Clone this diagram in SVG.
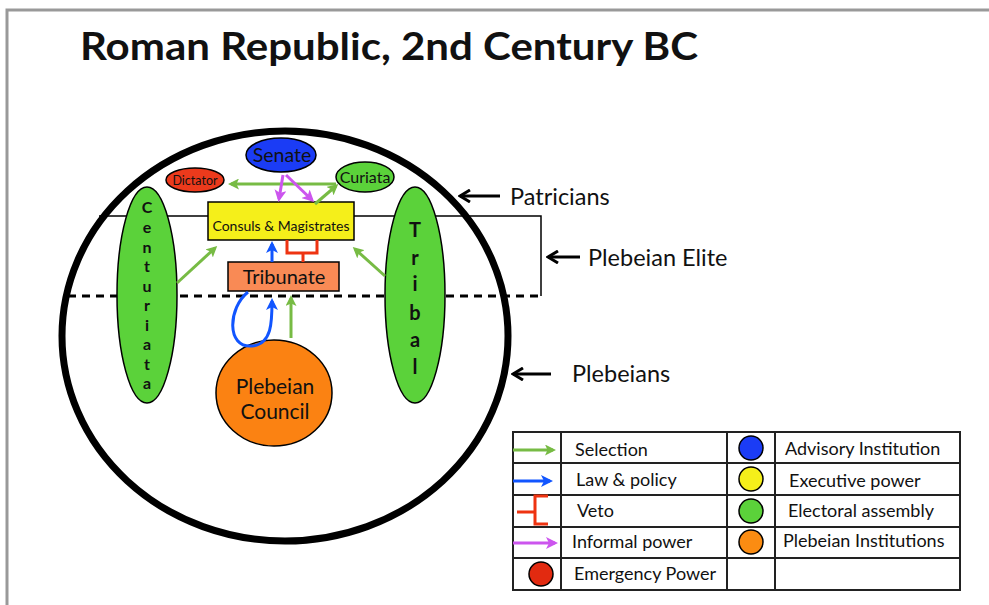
<svg xmlns="http://www.w3.org/2000/svg" width="989" height="605" viewBox="0 0 989 605">
  <style>
    text { font-family: Lato, "Open Sans", "Liberation Sans", sans-serif; fill: #111; }
    .lbl { font-size: 23.5px; }
    .leg { font-size: 18px; }
    .ol { stroke: #000; stroke-width: 1.5; }
    .sel { stroke: #77bb44; stroke-width: 3; fill: none; }
    .law { stroke: #1155ff; stroke-width: 3; fill: none; }
    .veto { stroke: #ee3311; stroke-width: 3; fill: none; }
    .inf { stroke: #cc55ee; stroke-width: 3; fill: none; }
    .grid { stroke: #222; stroke-width: 2; fill: none; }
    .letter { font-family: "Liberation Sans", Arial, sans-serif; font-weight: bold; text-anchor: middle; }
  </style>
  <defs>
    <marker id="ahSel" markerWidth="11" markerHeight="11" refX="8" refY="5.5" orient="auto" markerUnits="userSpaceOnUse" viewBox="0 0 11 11">
      <path d="M0,0 L11,5.5 L0,11 L2.5,5.5 Z" fill="#77bb44"/>
    </marker>
    <marker id="ahLaw" markerWidth="12" markerHeight="12" refX="9" refY="6" orient="auto" markerUnits="userSpaceOnUse" viewBox="0 0 12 12">
      <path d="M0,0 L12,6 L0,12 L3,6 Z" fill="#1155ff"/>
    </marker>
    <marker id="ahInf" markerWidth="12" markerHeight="12" refX="9" refY="6" orient="auto" markerUnits="userSpaceOnUse" viewBox="0 0 12 12">
      <path d="M0,0 L12,6 L0,12 L3,6 Z" fill="#cc55ee"/>
    </marker>
    <marker id="ahBlk" markerWidth="14" markerHeight="14" refX="12" refY="7" orient="auto" markerUnits="userSpaceOnUse" viewBox="0 0 14 14">
      <path d="M2,1 L12,7 L2,13" fill="none" stroke="#000" stroke-width="3"/>
    </marker>
  </defs>

  <!-- page frame -->
  <rect x="0" y="0" width="989" height="605" fill="#fff"/>
  <path d="M7,605 V10 H989" fill="none" stroke="#999" stroke-width="3"/>

  <text x="80" y="60" font-size="38" font-weight="bold" textLength="618" lengthAdjust="spacingAndGlyphs">Roman Republic, 2nd Century BC</text>

  <!-- class boundaries -->
  <g id="society">
    <ellipse cx="285" cy="336" rx="223" ry="205" fill="none" stroke="#000" stroke-width="7"/>
    <path d="M99,216 H541 V296" fill="none" stroke="#000" stroke-width="1.5"/>
    <line x1="68" y1="296" x2="541" y2="296" stroke="#000" stroke-width="3" stroke-dasharray="8,6"/>
  </g>

  <g id="class-labels">
    <line x1="500" y1="196" x2="460" y2="196" stroke="#000" stroke-width="3" marker-end="url(#ahBlk)"/>
    <text class="lbl" x="510" y="205">Patricians</text>
    <line x1="580" y1="257" x2="548" y2="257" stroke="#000" stroke-width="3" marker-end="url(#ahBlk)"/>
    <text class="lbl" x="588" y="266">Plebeian Elite</text>
    <line x1="551" y1="374" x2="513" y2="374" stroke="#000" stroke-width="3" marker-end="url(#ahBlk)"/>
    <text class="lbl" x="572" y="382">Plebeians</text>
  </g>

  <!-- institutions -->
  <g id="centuriata">
    <ellipse cx="147" cy="295" rx="30" ry="108" fill="#5bd23a" class="ol"/>
    <g class="letter" font-size="16">
      <text x="147" y="213">C</text><text x="147" y="233">e</text><text x="147" y="253">n</text>
      <text x="147" y="272">t</text><text x="147" y="292">u</text><text x="147" y="311">r</text>
      <text x="147" y="331">i</text><text x="147" y="350">a</text><text x="147" y="370">t</text>
      <text x="147" y="389">a</text>
    </g>
  </g>

  <g id="tribal">
    <ellipse cx="415" cy="295" rx="30" ry="108" fill="#5bd23a" class="ol"/>
    <g class="letter" font-size="20">
      <text x="415" y="237">T</text><text x="415" y="265">r</text><text x="415" y="291">i</text>
      <text x="415" y="320">b</text><text x="415" y="347">a</text><text x="415" y="374">l</text>
    </g>
  </g>

  <g id="senate">
    <ellipse cx="281" cy="155" rx="35" ry="17" fill="#1b3cf5" class="ol"/>
    <text x="282" y="162" font-size="19.5" text-anchor="middle">Senate</text>
  </g>

  <g id="dictator">
    <ellipse cx="195" cy="180" rx="29" ry="12" fill="#ec3a1c" class="ol"/>
    <text x="195" y="184.5" font-size="12.5" text-anchor="middle">Dictator</text>
  </g>

  <g id="curiata">
    <ellipse cx="365" cy="177" rx="29" ry="15" fill="#5bd23a" class="ol"/>
    <text x="365" y="183" font-size="16" text-anchor="middle">Curiata</text>
  </g>

  <g id="consuls">
    <rect x="208" y="202" width="146" height="38" fill="#f5ef1a" class="ol"/>
    <text x="281" y="231" font-size="14" text-anchor="middle">Consuls &amp; Magistrates</text>
  </g>

  <g id="tribunate">
    <rect x="228" y="262" width="111" height="29" fill="#f98a55" class="ol"/>
    <text x="284" y="284" font-size="20" text-anchor="middle">Tribunate</text>
  </g>

  <g id="plebeian-council">
    <ellipse cx="274" cy="393" rx="58" ry="53" fill="#fb8212" class="ol"/>
    <text x="275" y="394" font-size="21" text-anchor="middle">Plebeian</text>
    <text x="275" y="419" font-size="21" text-anchor="middle">Council</text>
  </g>

  <!-- relations -->
  <g id="connectors">
    <line class="sel" x1="336" y1="184" x2="231" y2="184" marker-end="url(#ahSel)"/>
    <line class="sel" x1="315" y1="204" x2="336" y2="186" marker-end="url(#ahSel)"/>
    <line class="sel" x1="177" y1="283" x2="215" y2="248" marker-end="url(#ahSel)"/>
    <line class="sel" x1="385" y1="276" x2="355" y2="249" marker-end="url(#ahSel)"/>
    <line class="sel" x1="291" y1="338" x2="291" y2="298" marker-end="url(#ahSel)"/>

    <line class="law" x1="272" y1="262" x2="272" y2="244" marker-end="url(#ahLaw)"/>
    <path class="law" d="M248,292 C228,308 226,348 252,346 C272,344 272,322 272,301" marker-end="url(#ahLaw)"/>

    <path class="veto" d="M303,262 V253 M287,240 V253 H317 V240"/>

    <line class="inf" x1="283" y1="175" x2="279" y2="199" marker-end="url(#ahInf)"/>
    <line class="inf" x1="286" y1="175" x2="312" y2="200" marker-end="url(#ahInf)"/>
  </g>

  <!-- key -->
  <g id="legend">
    <rect x="513" y="432" width="447" height="158" fill="#fff" class="grid"/>
    <path class="grid" d="M513,463 H960 M513,495 H960 M513,527 H960 M513,558 H960 M561,432 V590 M727,432 V590 M775,432 V590"/>

    <line class="sel" x1="513" y1="450" x2="553" y2="450" marker-end="url(#ahSel)"/>
    <line class="law" x1="513" y1="481" x2="550" y2="481" marker-end="url(#ahLaw)"/>
    <path class="veto" d="M517,512 H535 M548,496 H535 V524 H548"/>
    <line class="inf" x1="513" y1="543" x2="555" y2="543" marker-end="url(#ahInf)"/>
    <circle cx="541" cy="574" r="12" fill="#e22a10" class="ol"/>

    <circle cx="751" cy="448" r="12" fill="#1b3cf5" class="ol"/>
    <circle cx="751" cy="479" r="12" fill="#f5ef1a" class="ol"/>
    <circle cx="751" cy="511" r="12" fill="#5bd23a" class="ol"/>
    <circle cx="751" cy="542" r="12" fill="#fb8c12" class="ol"/>

    <text class="leg" x="575" y="456">Selection</text>
    <text class="leg" x="576" y="486">Law &amp; policy</text>
    <text class="leg" x="577" y="517">Veto</text>
    <text class="leg" x="572" y="548">Informal power</text>
    <text class="leg" x="574" y="580">Emergency Power</text>
    <text class="leg" x="785" y="455">Advisory Institution</text>
    <text class="leg" x="789" y="487">Executive power</text>
    <text class="leg" x="788" y="517">Electoral assembly</text>
    <text class="leg" x="783" y="547">Plebeian Institutions</text>
  </g>
</svg>
